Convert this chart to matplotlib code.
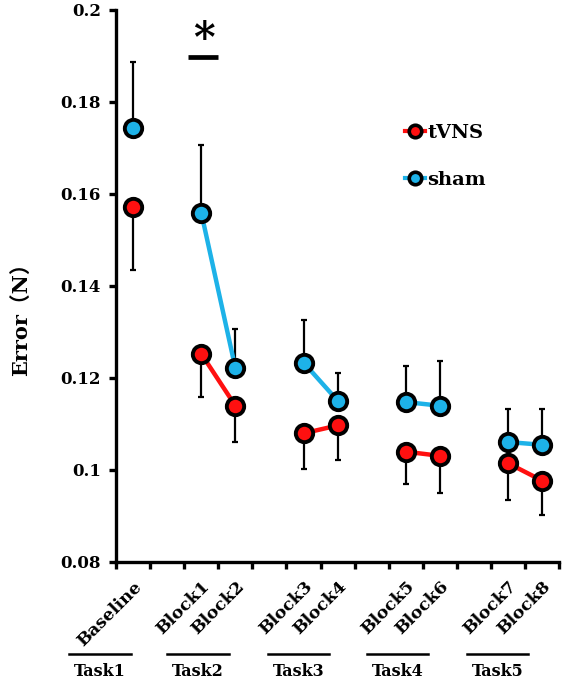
import matplotlib
matplotlib.use("Agg")
import matplotlib.pyplot as plt
import matplotlib.transforms as mtransforms
from matplotlib.lines import Line2D
import numpy as np

# ---- data ----
conditions = ["Baseline", "Block1", "Block2", "Block3", "Block4",
              "Block5", "Block6", "Block7", "Block8"]
tasks = ["Task1", "Task2", "Task3", "Task4", "Task5"]
tvns_mean = [0.1572, 0.1252, 0.1139, 0.1079, 0.1096, 0.1039, 0.1030, 0.1014, 0.0976]
tvns_err = [0.0138, 0.0093, 0.0078, 0.0078, 0.0076, 0.0070, 0.0081, 0.0080, 0.0074]
sham_mean = [0.1743, 0.1559, 0.1221, 0.1233, 0.1150, 0.1147, 0.1139, 0.1060, 0.1054]
sham_err = [0.0143, 0.0147, 0.0084, 0.0093, 0.0061, 0.0079, 0.0098, 0.0072, 0.0077]
yticks = [0.08, 0.1, 0.12, 0.14, 0.16, 0.18, 0.2]
ytick_labels = ["0.08", "0.1", "0.12", "0.14", "0.16", "0.18", "0.2"]

# ---- layout ----
xpos = np.array([0.5, 2.5, 3.5, 5.5, 6.5, 8.5, 9.5, 11.5, 12.5])
pairs = [(1, 2), (3, 4), (5, 6), (7, 8)]
task_centers = [-0.47, 2.4, 5.35, 8.26, 11.19]

RED = "#ff1010"
BLUE = "#1db2e8"
SERIF = "DejaVu Serif"

fig = plt.figure(figsize=(5.66, 6.84), dpi=100)
ax = fig.add_axes([0.205, 0.179, 0.783, 0.8065])

ms = 12.5
mew = 2.8
lw = 3.2

# error bars (one-sided)
ax.errorbar(xpos, sham_mean, yerr=[np.zeros(len(sham_err)), sham_err], fmt="none",
            ecolor="black", elinewidth=1.6, capsize=2, capthick=1.6, zorder=2)
ax.errorbar(xpos, tvns_mean, yerr=[tvns_err, np.zeros(len(tvns_err))], fmt="none",
            ecolor="black", elinewidth=1.6, capsize=2, capthick=1.6, zorder=2)

tm = np.array(tvns_mean)
sm = np.array(sham_mean)
for a, b in pairs:
    ax.plot(xpos[[a, b]], sm[[a, b]], color=BLUE, lw=lw, zorder=3, solid_capstyle="round")
    ax.plot(xpos[[a, b]], tm[[a, b]], color=RED, lw=lw, zorder=3, solid_capstyle="round")

ax.plot(xpos, sm, linestyle="none", marker="o", ms=ms, mfc=BLUE, mec="black", mew=mew, zorder=4)
ax.plot(xpos, tm, linestyle="none", marker="o", ms=ms, mfc=RED, mec="black", mew=mew, zorder=4)

# axes styling
ax.set_xlim(0, 13)
ax.set_ylim(0.08, 0.2)
for s in ["top", "right"]:
    ax.spines[s].set_visible(False)
for s in ["left", "bottom"]:
    ax.spines[s].set_linewidth(2.4)
ax.set_yticks(yticks)
ax.set_yticklabels(ytick_labels, fontfamily=SERIF, fontweight="bold", fontsize=12)
ax.set_xticks(np.arange(0, 14))
ax.set_xticklabels([])
ax.tick_params(axis="both", which="major", direction="out", length=5, width=2.4, pad=6)
ax.set_xticks(xpos, minor=True)
ax.set_xticklabels(conditions, minor=True, rotation=45, ha="right",
                   rotation_mode="anchor", fontfamily=SERIF, fontweight="bold", fontsize=12.5)
ax.tick_params(axis="x", which="minor", length=0, pad=12)

# y label
fig.text(21 / 566, 1 - 314 / 684, "Error（N）", rotation=90, ha="center", va="center",
         fontsize=15, fontweight="bold", family=[SERIF, "Noto Sans CJK SC"])

# significance marker
ax.plot([2.1, 3.0], [0.1898, 0.1898], color="black", lw=3.4, solid_capstyle="butt")
ax.text(2.58, 0.1935, "*", ha="center", va="center", fontsize=30, fontweight="bold",
        family=SERIF)

# task labels
trans = mtransforms.blended_transform_factory(ax.transData, ax.transAxes)
for c, t in zip(task_centers, tasks):
    ax.plot([c - 0.9, c + 0.9], [-0.167, -0.167], color="black", lw=1.8,
            transform=trans, clip_on=False)
    ax.text(c, -0.2, t, transform=trans, ha="center", va="center",
            fontfamily=SERIF, fontweight="bold", fontsize=11.5)

# legend
handles = [
    Line2D([], [], color=RED, lw=3, marker="o", ms=9, mfc=RED, mec="black", mew=2.6),
    Line2D([], [], color=BLUE, lw=3, marker="o", ms=9, mfc=BLUE, mec="black", mew=2.6),
]
ax.legend(handles, ["tVNS", "sham"], loc="center left", bbox_to_anchor=(0.635, 0.735),
          borderaxespad=0, borderpad=0.4, frameon=False, handlelength=1.0,
          handletextpad=0.15, labelspacing=1.5,
          prop={"family": SERIF, "weight": "bold", "size": 14})

fig.savefig("out.png", dpi=100)
